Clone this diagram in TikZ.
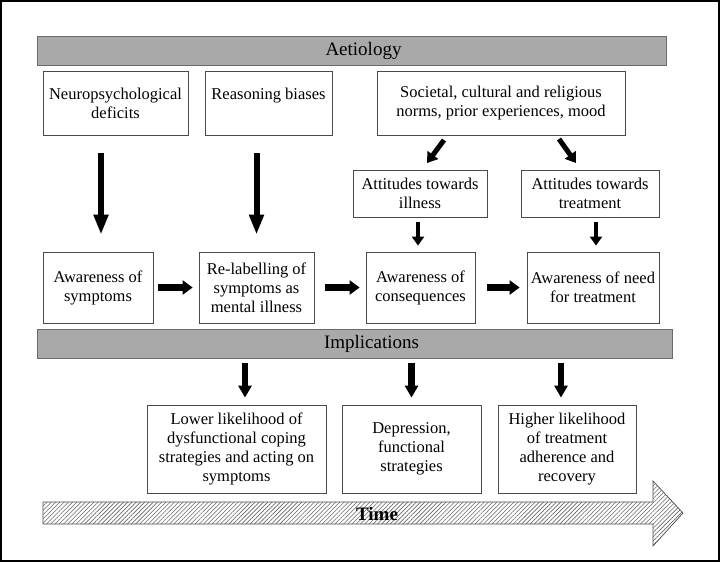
\documentclass[tikz,border=0pt]{standalone}
\usepackage{fontspec}
\setmainfont{Liberation Serif}
\usetikzlibrary{arrows.meta,patterns.meta,calc}
\definecolor{barfill}{HTML}{A9A9A9}
\definecolor{barline}{HTML}{6A6A6A}
\definecolor{boxline}{HTML}{4A4A4A}
\begin{document}
\begin{tikzpicture}[x=1pt,y=-1pt,
  box/.style={draw=boxline,line width=0.8pt,fill=white,align=center,inner sep=0pt,
    font=\fontsize{16.5}{19}\selectfont},
  bar/.style={draw=barline,line width=0.8pt,fill=barfill,inner sep=0pt},
  bartext/.style={font=\fontsize{19}{22}\selectfont,inner sep=0pt},
  bigarrow/.style={line width=6pt,-{Triangle[width=14pt,length=20pt]}},
  midarrow/.style={line width=6.5pt,-{Triangle[width=13pt,length=12pt]}},
  smallarrow/.style={line width=4.5pt,-{Triangle[width=12pt,length=9pt]}},
  harrow/.style={line width=6.5pt,-{Triangle[width=14pt,length=10pt]}},
  diagarrow/.style={line width=5pt,-{Triangle[width=13pt,length=10pt]}}]
\useasboundingbox (0,0) rectangle (720,562);
\draw[line width=1.6pt] (1,1) rectangle (719,561);
% bars
\node[bar,minimum width=629,minimum height=29] (aet) at (351.5,50.5) {};
\node[bartext] (aettext) at ([xshift=12]aet.center) {Aetiology};
\node[bar,minimum width=635,minimum height=29] (impl) at (354.5,343.5) {};
\node[bartext] (impltext) at ([xshift=17]impl.center) {Implications};
% top row
\node[box,minimum width=145,minimum height=64] (neuro) at (115.5,103) {Neuropsychological\\deficits};
\node[box,minimum width=127,minimum height=64] (reason) at (268.5,103) {Reasoning biases\\\mbox{}};
\node[box,minimum width=248,minimum height=64] (soc) at (501,103) {Societal, cultural and religious\\norms, prior experiences, mood};
% attitudes
\node[box,minimum width=134,minimum height=47] (attill) at (420,193.5) {Attitudes towards\\illness};
\node[box,minimum width=138,minimum height=47] (atttreat) at (590,193.5) {Attitudes towards\\treatment};
% middle row
\node[box,minimum width=110,minimum height=71] (awsym) at (98,287.5) {Awareness of\\symptoms};
\node[box,minimum width=115,minimum height=71] (relab) at (256.5,287.5) {Re-labelling of\\symptoms as\\mental illness};
\node[box,minimum width=109,minimum height=71] (awcons) at (420.5,287.5) {Awareness of\\consequences};
\node[box,minimum width=132,minimum height=71] (awneed) at (593,287.5) {Awareness of need\\for treatment};
% bottom row
\node[box,minimum width=179,minimum height=88] (lower) at (236.5,449) {Lower likelihood of\\dysfunctional coping\\strategies and acting on\\symptoms};
\node[box,minimum width=139,minimum height=88] (depr) at (411.5,449) {Depression,\\functional\\strategies};
\node[box,minimum width=138,minimum height=88] (higher) at (567,449) {Higher likelihood\\of treatment\\adherence and\\recovery};
% time arrow
\coordinate (tstart) at (43,502);
\coordinate (ttip) at (683,513);
\filldraw[draw=boxline,line width=0.7pt,fill=white,
  postaction={pattern={Lines[angle=45,distance=3pt,line width=0.6pt]},pattern color=black!60}]
  (tstart) -- (653,502) -- (653,481) -- (ttip) -- (653,546) -- (653,524) -- (43,524) -- cycle;
\node[font=\bfseries\fontsize{19}{22}\selectfont,inner sep=0pt] (time) at (377,514) {Time};
% arrows
\draw[bigarrow,shorten <=18pt,shorten >=17pt] ([xshift=3]awsym.north |- neuro.south) -- ([xshift=3]awsym.north);
\draw[bigarrow,shorten <=18pt,shorten >=17pt] (relab.north |- reason.south) -- (relab.north);
\coordinate (d1s) at (444,140);
\coordinate (d1e) at (427,163);
\coordinate (d2s) at (559,139);
\coordinate (d2e) at (576,163);
\draw[diagarrow] (d1s) -- (d1e);
\draw[diagarrow] (d2s) -- (d2e);
\draw[smallarrow,shorten <=5pt,shorten >=6pt] ([xshift=-2]attill.south) -- ([xshift=-2]attill.south |- awcons.north);
\draw[smallarrow,shorten <=5pt,shorten >=6pt] ([xshift=6]atttreat.south) -- ([xshift=6]atttreat.south |- awneed.north);
\draw[harrow,shorten <=5pt,shorten >=6pt] (awsym.east) -- (relab.west);
\draw[harrow,shorten <=11pt,shorten >=6pt] (relab.east) -- (awcons.west);
\draw[harrow,shorten <=12pt,shorten >=7pt] (awcons.east) -- (awneed.west);
\draw[midarrow,shorten <=5pt,shorten >=7pt] ([xshift=8.5]lower.north |- impl.south) -- ([xshift=8.5]lower.north);
\draw[midarrow,shorten <=5pt,shorten >=7pt] (depr.north |- impl.south) -- (depr.north);
\draw[midarrow,shorten <=5pt,shorten >=7pt] ([xshift=-6]higher.north |- impl.south) -- ([xshift=-6]higher.north);
\end{tikzpicture}
\end{document}
